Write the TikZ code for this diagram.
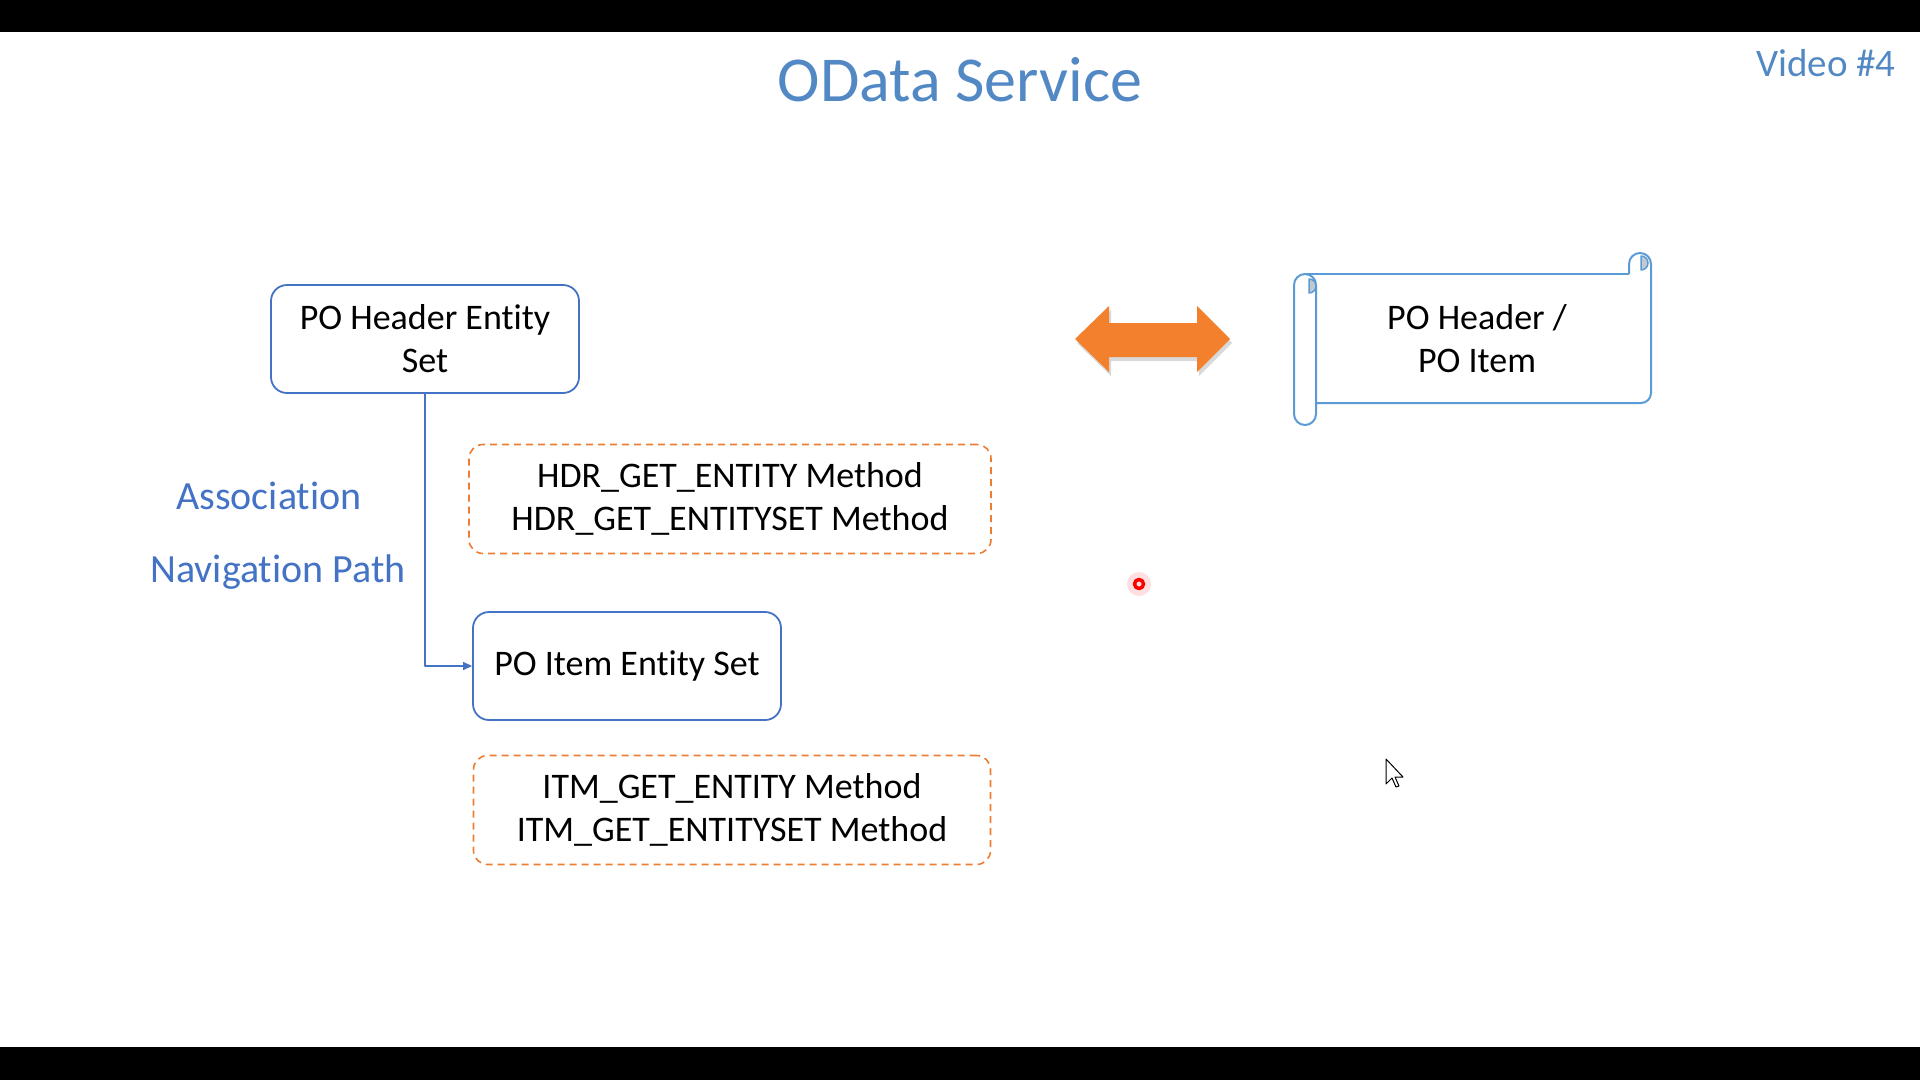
\documentclass[tikz,border=0pt]{standalone}
\usepackage{fontspec}
\setmainfont[Ligatures=NoCommon]{Carlito}
\usetikzlibrary{shadows,arrows.meta}
\definecolor{boxblue}{RGB}{68,114,196}
\definecolor{scrollblue}{RGB}{91,155,213}
\definecolor{methorange}{RGB}{237,125,49}
\definecolor{arroworange}{RGB}{242,128,44}
\definecolor{titleblue}{RGB}{82,137,196}
\definecolor{labelblue}{RGB}{68,114,196}
\definecolor{curlgray}{RGB}{196,200,208}
\begin{document}
\begin{tikzpicture}[x=1pt, y=-1pt, line join=round, font=\fontsize{36}{43}\selectfont, >={Triangle[length=9pt,width=8pt]},
  entbox/.style={draw=boxblue, line width=1.8pt, rounded corners=16pt, align=center, minimum width=308pt, minimum height=108pt, inner sep=0pt},
  methbox/.style={draw=methorange, line width=1.6pt, dash pattern=on 7pt off 5pt, rounded corners=14pt, align=center, minimum height=109pt, inner sep=0pt},
  lbl/.style={text=labelblue, font=\fontsize{40}{48}\selectfont}]
 \useasboundingbox (0,0) rectangle (1920,1080);
 \fill[black] (0,0) rectangle (1920,32);
 \fill[black] (0,1047) rectangle (1920,1080);
 \node[text=titleblue, font=\fontsize{64}{72}\selectfont] (title) at (960,80) {OData Service};
 \node[text=titleblue, font=\fontsize{39}{46}\selectfont] (vid) at (1826,63) {Video \#4};
 % entity sets and methods
 \node[entbox] (hdr) at (425,339) {PO Header Entity\\Set};
 \node[entbox] (item) at (627,666) {PO Item Entity Set};
 \node[methbox, minimum width=522pt] (hdrm) at (730,499) {HDR\_GET\_ENTITY Method\\HDR\_GET\_ENTITYSET Method};
 \node[methbox, minimum width=517pt] (itmm) at (732,810) {ITM\_GET\_ENTITY Method\\ITM\_GET\_ENTITYSET Method};
 \node[lbl] (assoc) at (269,496) {Association};
 \node[lbl] (nav) at (278,572) {Navigation Path};
 \draw[boxblue, line width=1.2pt, ->] (hdr.south) |- (item.west);
 % double arrow
 \fill[arroworange, drop shadow={opacity=0.3, shadow xshift=2pt, shadow yshift=-4pt}] (1075,339) -- (1109,306) -- (1109,323) -- (1197,323) -- (1197,306) -- (1230,339) -- (1197,372) -- (1197,357) -- (1109,357) -- (1109,372) -- cycle;
 % scroll
 \draw[scrollblue, line width=2pt] (1305,274) -- (1629,274);
 \draw[scrollblue, line width=2pt, rounded corners=10pt] (1651,264) -- (1651,403) -- (1316,403);
 \draw[scrollblue, line width=2pt, fill=white] (1316,285) -- (1316,414) arc (0:180:11) -- (1294,285) arc (180:360:11) -- cycle;
 \draw[scrollblue, line width=2pt] (1629,274) -- (1629,264) arc (180:360:11);
 \filldraw[fill=curlgray, draw=scrollblue, line width=1.5pt] (1309,279) arc (270:450:7) -- cycle;
 \filldraw[fill=curlgray, draw=scrollblue, line width=1.5pt] (1641,256) arc (270:450:7) -- cycle;
 \node[align=center] (scr) at (1477,339) {PO Header /\\PO Item};
 % pointer marks
 \fill[red, opacity=0.12] (1139,584) circle (12);
 \draw[red, line width=3.5pt] (1139,584) circle (4.5);
 \filldraw[fill=white, draw=black, line width=1pt] (1386,759) -- (1386,784) -- (1392,778) -- (1396,787) -- (1399,786) -- (1395,777) -- (1403,777) -- cycle;
\end{tikzpicture}
\end{document}
